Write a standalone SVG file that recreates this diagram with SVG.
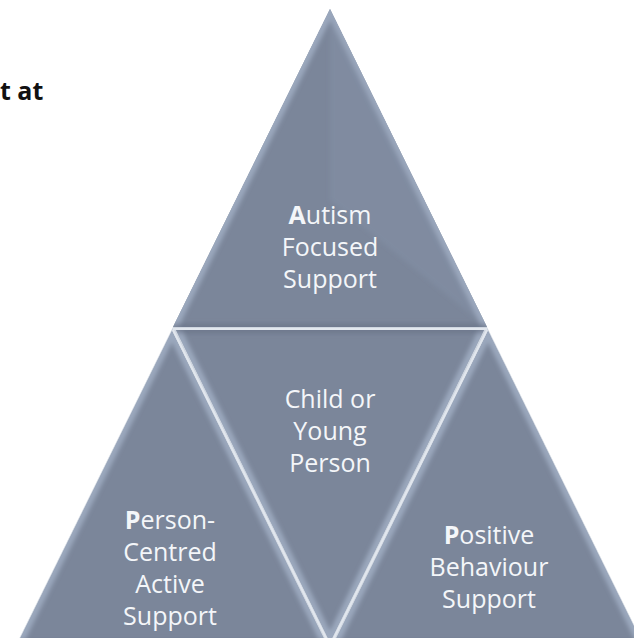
<svg xmlns="http://www.w3.org/2000/svg" width="634" height="638" viewBox="0 0 634 638">
  <style>
    .lbl { font-family: "Open Sans", "Noto Sans", sans-serif; font-size: 25px; fill: #f4f6f9; text-anchor: middle; }
    .lbl .b { font-weight: 700; }
    .head { font-family: "Open Sans", "Noto Sans", sans-serif; font-size: 25px; font-weight: 700; fill: #111111; }
    .face { fill: #7b869a; }
    .rim { fill: none; stroke: #a6b3c8; stroke-width: 10; opacity: 0.75; }
    .shade { fill: none; stroke: #647083; stroke-width: 7; opacity: 0.55; }
  </style>
  <defs>
    <filter id="soft" x="-5%" y="-5%" width="110%" height="110%">
      <feGaussianBlur stdDeviation="2.2"/>
    </filter>
    <clipPath id="clipTop"><polygon points="330,9 173,327 487,327"/></clipPath>
    <clipPath id="clipLeft"><polygon points="172,331 17,645 327,645"/></clipPath>
    <clipPath id="clipMid"><polygon points="176,330 484,330 330,642"/></clipPath>
    <clipPath id="clipRight"><polygon points="488,331 333,645 643,645"/></clipPath>
  </defs>

  <!-- heading fragment -->
  <text class="head" x="0" y="100">t at</text>

  <!-- backing plate shows through the seams -->
  <polygon points="330,9 16,645 644,645" fill="#cfd6e0"/>

  <!-- top segment -->
  <g id="seg-autism">
    <polygon class="face" points="330,9 173,327 487,327"/>
    <g clip-path="url(#clipTop)" filter="url(#soft)">
      <polyline class="rim" points="173,327 330,9 487,327"/>
      <polyline class="shade" points="173,327 487,327"/>
      <polygon points="330,12 330,200 480,322" fill="#8996ab" opacity="0.35"/>
    </g>
    <text class="lbl" x="330" y="224"><tspan class="b">A</tspan>utism</text>
    <text class="lbl" x="330" y="256">Focused</text>
    <text class="lbl" x="330" y="288">Support</text>
  </g>

  <!-- centre (inverted) segment -->
  <g id="seg-child">
    <polygon class="face" points="176,330 484,330 330,642"/>
    <g clip-path="url(#clipMid)" filter="url(#soft)">
      <polyline class="rim" points="176,330 330,642 484,330"/>
      <polyline class="shade" points="176,330 484,330"/>
    </g>
    <text class="lbl" x="330" y="408">Child or</text>
    <text class="lbl" x="330" y="440">Young</text>
    <text class="lbl" x="330" y="472">Person</text>
  </g>

  <!-- left segment -->
  <g id="seg-person">
    <polygon class="face" points="172,331 17,645 327,645"/>
    <g clip-path="url(#clipLeft)" filter="url(#soft)">
      <polyline class="rim" points="17,645 172,331 327,645"/>
      <polyline class="shade" points="17,643 327,643"/>
    </g>
    <text class="lbl" x="170" y="529"><tspan class="b">P</tspan>erson-</text>
    <text class="lbl" x="170" y="561">Centred</text>
    <text class="lbl" x="170" y="593">Active</text>
    <text class="lbl" x="170" y="625">Support</text>
  </g>

  <!-- right segment -->
  <g id="seg-positive">
    <polygon class="face" points="488,331 333,645 643,645"/>
    <g clip-path="url(#clipRight)" filter="url(#soft)">
      <polyline class="rim" points="333,645 488,331 643,645"/>
      <polyline class="shade" points="333,643 643,643"/>
    </g>
    <text class="lbl" x="489" y="544"><tspan class="b">P</tspan>ositive</text>
    <text class="lbl" x="489" y="576">Behaviour</text>
    <text class="lbl" x="489" y="608">Support</text>
  </g>

  <!-- seams between segments -->
  <g id="seams" stroke="#e2e7ee" stroke-width="2" fill="none">
    <line x1="173" y1="329" x2="487" y2="329"/>
    <line x1="173" y1="330" x2="329" y2="644"/>
    <line x1="487" y1="330" x2="331" y2="644"/>
  </g>
</svg>
